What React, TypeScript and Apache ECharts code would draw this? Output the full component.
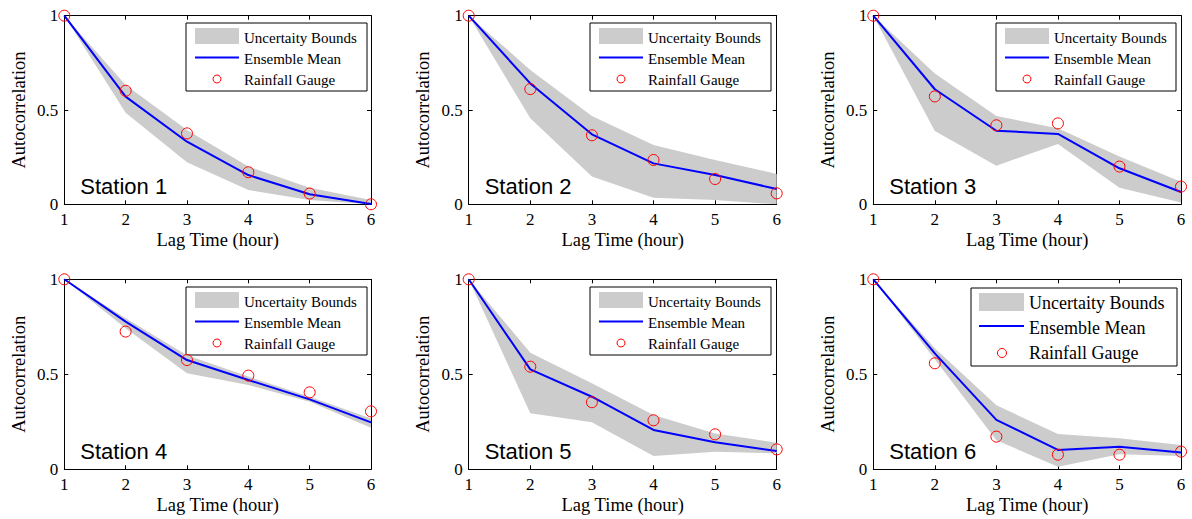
import React, { useEffect, useRef } from 'react';
import * as echarts from 'echarts';

const lags = ['1', '2', '3', '4', '5', '6'];

const s1Gauge = [1, 0.602, 0.376, 0.17, 0.057, 0.0];
const s1Mean = [1, 0.571, 0.332, 0.155, 0.053, 0.002];
const s1Lower = [1, 0.486, 0.223, 0.076, 0.023, 0.0];
const s1Upper = [1, 0.633, 0.394, 0.2, 0.088, 0.023];

const s2Gauge = [1, 0.611, 0.366, 0.235, 0.134, 0.058];
const s2Mean = [1, 0.641, 0.371, 0.217, 0.155, 0.081];
const s2Lower = [1, 0.456, 0.147, 0.035, 0.023, 0.0];
const s2Upper = [1, 0.712, 0.468, 0.314, 0.235, 0.161];

const s3Gauge = [1, 0.572, 0.419, 0.429, 0.2, 0.094];
const s3Mean = [1, 0.61, 0.39, 0.373, 0.191, 0.065];
const s3Lower = [1, 0.389, 0.205, 0.32, 0.088, 0.009];
const s3Upper = [1, 0.694, 0.468, 0.403, 0.253, 0.12];

const s4Gauge = [1, 0.725, 0.575, 0.493, 0.405, 0.305];
const s4Mean = [1, 0.777, 0.575, 0.47, 0.368, 0.247];
const s4Lower = [1, 0.742, 0.505, 0.444, 0.356, 0.219];
const s4Upper = [1, 0.795, 0.6, 0.488, 0.382, 0.268];

const s5Gauge = [1, 0.54, 0.353, 0.258, 0.184, 0.105];
const s5Mean = [1, 0.526, 0.382, 0.207, 0.142, 0.096];
const s5Lower = [1, 0.295, 0.247, 0.07, 0.093, 0.084];
const s5Upper = [1, 0.614, 0.453, 0.286, 0.189, 0.14];

const s6Gauge = [1, 0.558, 0.172, 0.077, 0.077, 0.093];
const s6Mean = [1, 0.61, 0.26, 0.102, 0.119, 0.089];
const s6Lower = [1, 0.579, 0.153, 0.014, 0.079, 0.07];
const s6Upper = [1, 0.637, 0.337, 0.186, 0.163, 0.128];

const stationNames = ['Station 1', 'Station 2', 'Station 3', 'Station 4', 'Station 5', 'Station 6'];
const legendNames = ['Uncertaity Bounds', 'Ensemble Mean', 'Rainfall Gauge'];
const xAxisName = 'Lag Time (hour)';
const yAxisName = 'Autocorrelation';

const stations = [
  { gauge: s1Gauge, mean: s1Mean, lower: s1Lower, upper: s1Upper },
  { gauge: s2Gauge, mean: s2Mean, lower: s2Lower, upper: s2Upper },
  { gauge: s3Gauge, mean: s3Mean, lower: s3Lower, upper: s3Upper },
  { gauge: s4Gauge, mean: s4Mean, lower: s4Lower, upper: s4Upper },
  { gauge: s5Gauge, mean: s5Mean, lower: s5Lower, upper: s5Upper },
  { gauge: s6Gauge, mean: s6Mean, lower: s6Lower, upper: s6Upper },
];

// layout (pixels)
const gridBoxes = [
  { left: 64.3, top: 15.7, width: 306.7, height: 188.6 },
  { left: 468.7, top: 15.7, width: 308, height: 188.6 },
  { left: 873.3, top: 15.7, width: 307.7, height: 188.6 },
  { left: 64.3, top: 279.3, width: 306.7, height: 190 },
  { left: 468.7, top: 279.3, width: 308, height: 190 },
  { left: 873.3, top: 279.3, width: 307.7, height: 190 },
];

const smallLegend = { swatch: [9, 5, 44, 16], lineY: 34.5, lineX: [9, 53], circle: [31, 56, 4], textX: 58, rows: [14.7, 36.3, 57], fs: 15 };
const largeLegend = { swatch: [8, 5, 45, 18], lineY: 38, lineX: [8, 53], circle: [31, 65, 4.5], textX: 58, rows: [15.3, 40.3, 65.3], fs: 18 };

const legendBoxes = [
  { x: 186, y: 23, w: 181, h: 68, s: smallLegend },
  { x: 590, y: 23, w: 181, h: 68, s: smallLegend },
  { x: 996, y: 23, w: 180, h: 68, s: smallLegend },
  { x: 186, y: 287, w: 181, h: 68, s: smallLegend },
  { x: 590, y: 287, w: 181, h: 68, s: smallLegend },
  { x: 971, y: 288, w: 206, h: 78, s: largeLegend },
];

const SERIF = '"Liberation Serif", "Times New Roman", serif';
const SANS = '"Liberation Sans", Arial, sans-serif';
const BAND = '#cccccc';
const BLUE = '#0000ff';
const RED = '#ff0000';

function buildOption() {
  const grid: any[] = [];
  const xAxis: any[] = [];
  const yAxis: any[] = [];
  const series: any[] = [];
  const graphic: any[] = [];

  stations.forEach((st, i) => {
    const g = gridBoxes[i];
    grid.push({ left: g.left, top: g.top, width: g.width, height: g.height, containLabel: false, show: false });
    const tick = { show: true, inside: true, length: 4, interval: 0, lineStyle: { color: '#000', width: 1 } };
    const line = { show: true, onZero: false, lineStyle: { color: '#000', width: 1 } };
    xAxis.push({
      type: 'category', gridIndex: i, data: lags, boundaryGap: false, position: 'bottom',
      axisLine: line, axisTick: tick,
      axisLabel: { interval: 0, margin: 7, color: '#000', fontFamily: SERIF, fontSize: 17 },
      name: xAxisName, nameLocation: 'middle', nameGap: 26,
      nameTextStyle: { color: '#000', fontFamily: SERIF, fontSize: 18.5 },
      splitLine: { show: false },
    });
    xAxis.push({
      type: 'category', gridIndex: i, data: lags, boundaryGap: false, position: 'top',
      axisLine: line, axisTick: tick, axisLabel: { show: false }, splitLine: { show: false },
    });
    yAxis.push({
      type: 'value', gridIndex: i, min: 0, max: 1, interval: 0.5, position: 'left',
      axisLine: line, axisTick: tick,
      axisLabel: { margin: 6, color: '#000', fontFamily: SERIF, fontSize: 17 },
      name: yAxisName, nameLocation: 'middle', nameGap: 36, nameRotate: 90,
      nameTextStyle: { color: '#000', fontFamily: SERIF, fontSize: 18.5 },
      splitLine: { show: false },
    });
    yAxis.push({
      type: 'value', gridIndex: i, min: 0, max: 1, interval: 0.5, position: 'right',
      axisLine: line, axisTick: tick, axisLabel: { show: false }, splitLine: { show: false },
    });

    const xi = i * 2;
    const yi = i * 2;
    const diff = st.upper.map((u, k) => +(u - st.lower[k]).toFixed(4));
    series.push({
      type: 'line', name: legendNames[0] + ' lower', xAxisIndex: xi, yAxisIndex: yi, data: st.lower,
      stack: 'band' + i, symbol: 'none', silent: true, lineStyle: { width: 0, opacity: 0 }, z: 1,
    });
    series.push({
      type: 'line', name: legendNames[0], xAxisIndex: xi, yAxisIndex: yi, data: diff,
      stack: 'band' + i, symbol: 'none', silent: true, lineStyle: { width: 0, opacity: 0 },
      areaStyle: { color: BAND, opacity: 1 }, z: 1,
    });
    series.push({
      type: 'line', name: legendNames[1], xAxisIndex: xi, yAxisIndex: yi, data: st.mean,
      symbol: 'none', lineStyle: { color: BLUE, width: 2 }, z: 3,
    });
    series.push({
      type: 'scatter', name: legendNames[2], xAxisIndex: xi, yAxisIndex: yi, data: st.gauge,
      symbol: 'circle', symbolSize: 11, clip: false,
      itemStyle: { color: 'rgba(0,0,0,0)', borderColor: RED, borderWidth: 1, opacity: 1 }, z: 4,
    });

    // station label
    graphic.push({
      type: 'text', x: g.left + 16, y: g.top + g.height - 18, z: 10,
      style: { text: stationNames[i], fontFamily: SANS, fontSize: 22, fill: '#000', align: 'left', verticalAlign: 'middle' },
    });

    // legend
    const lb = legendBoxes[i];
    const s = lb.s;
    graphic.push({
      type: 'group', x: lb.x, y: lb.y, z: 20,
      children: [
        { type: 'rect', shape: { x: 0, y: 0, width: lb.w, height: lb.h }, style: { fill: '#fff', stroke: '#000', lineWidth: 1 } },
        { type: 'rect', shape: { x: s.swatch[0], y: s.swatch[1], width: s.swatch[2], height: s.swatch[3] }, style: { fill: BAND } },
        { type: 'line', shape: { x1: s.lineX[0], y1: s.lineY, x2: s.lineX[1], y2: s.lineY }, style: { stroke: BLUE, lineWidth: 2 } },
        { type: 'circle', shape: { cx: s.circle[0], cy: s.circle[1], r: s.circle[2] }, style: { fill: 'none', stroke: RED, lineWidth: 1 } },
        ...legendNames.map((n, k) => ({
          type: 'text', x: s.textX, y: s.rows[k],
          style: { text: n, fontFamily: SERIF, fontSize: s.fs, fill: '#000', align: 'left', verticalAlign: 'middle' },
        })),
      ],
    });
  });

  return {
    animation: false,
    backgroundColor: '#ffffff',
    grid, xAxis, yAxis, series, graphic,
  };
}

export default function App() {
  const ref = useRef<HTMLDivElement>(null);
  useEffect(() => {
    if (!ref.current) return;
    const chart = echarts.init(ref.current, undefined, { renderer: 'svg' });
    chart.setOption(buildOption() as any);
    return () => chart.dispose();
  }, []);
  return <div ref={ref} style={{ position: 'absolute', left: 0, top: 0, width: 1192, height: 519 }} />;
}
